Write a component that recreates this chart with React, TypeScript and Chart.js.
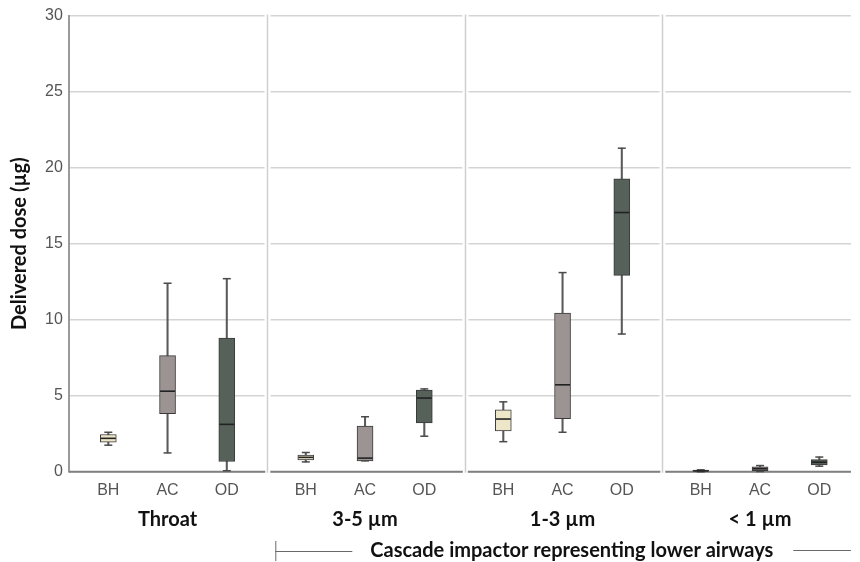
import React, { useEffect, useRef } from "react";
import { Chart, registerables } from "chart.js";
Chart.register(...registerables);

const panelLabels = ["Throat", "3-5 µm", "1-3 µm", "< 1 µm"];
const groupLabels = ["BH", "AC", "OD"];
const yTicks = [0, 5, 10, 15, 20, 25, 30];
const yTitle = "Delivered dose (µg)";
const bracketLabel = "Cascade impactor representing lower airways";

// per group: values for [Throat, 3-5, 1-3, <1]
const bhLow = [1.75, 0.65, 1.98, 0.0];
const bhQ1 = [1.95, 0.78, 2.69, 0.02];
const bhMed = [2.2, 0.95, 3.47, 0.06];
const bhQ3 = [2.45, 1.1, 4.08, 0.11];
const bhHigh = [2.6, 1.27, 4.6, 0.13];

const acLow = [1.24, 0.72, 2.6, 0.02];
const acQ1 = [3.82, 0.72, 3.49, 0.08];
const acMed = [5.3, 0.9, 5.72, 0.2];
const acQ3 = [7.64, 3.0, 10.43, 0.32];
const acHigh = [12.4, 3.62, 13.1, 0.41];

const odLow = [0.07, 2.34, 9.06, 0.37];
const odQ1 = [0.68, 3.21, 12.92, 0.46];
const odMed = [3.12, 4.85, 17.05, 0.63];
const odQ3 = [8.8, 5.38, 19.27, 0.8];
const odHigh = [12.7, 5.45, 21.28, 0.97];

const groupData = [
  { low: bhLow, q1: bhQ1, med: bhMed, q3: bhQ3, high: bhHigh, color: "#ede6c8" },
  { low: acLow, q1: acQ1, med: acMed, q3: acQ3, high: acHigh, color: "#9c9393" },
  { low: odLow, q1: odQ1, med: odMed, q3: odQ3, high: odHigh, color: "#56615a" },
];

const PANEL = 10;
const xPos = (p: number, g: number) => p * PANEL + 2 + g * 3;
const tickPositions: number[] = [];
const tickNames: Record<string, string> = {};
panelLabels.forEach((_, p) =>
  groupLabels.forEach((g, gi) => {
    const v = xPos(p, gi);
    tickPositions.push(v);
    tickNames[String(v)] = g;
  })
);

const panelPlugin = {
  id: "panels",
  beforeDatasetsDraw(chart: any) {
    const { ctx, chartArea, scales } = chart;
    const xs = scales.x;
    ctx.save();
    for (let p = 1; p < panelLabels.length; p++) {
      const px = Math.round(xs.getPixelForValue(p * PANEL)) + 1.5;
      ctx.fillStyle = "#ffffff";
      ctx.fillRect(px - 3, chartArea.top - 2, 6, chartArea.bottom - chartArea.top + 6);
      ctx.strokeStyle = "#cfcfcf";
      ctx.lineWidth = 1.5;
      ctx.beginPath();
      ctx.moveTo(px, chartArea.top - 1);
      ctx.lineTo(px, chartArea.bottom + 1);
      ctx.stroke();
    }
    ctx.strokeStyle = "#808080";
    ctx.lineWidth = 2;
    for (let p = 0; p < panelLabels.length; p++) {
      const a = p === 0 ? chartArea.left : xs.getPixelForValue(p * PANEL) + 4;
      const b = Math.min(chartArea.right, xs.getPixelForValue((p + 1) * PANEL) - 1);
      ctx.beginPath();
      ctx.moveTo(a, chartArea.bottom);
      ctx.lineTo(b, chartArea.bottom);
      ctx.stroke();
    }
    ctx.restore();
  },
  afterDraw(chart: any) {
    const { ctx, chartArea, scales } = chart;
    const xs = scales.x;
    ctx.save();
    ctx.fillStyle = "#111111";
    ctx.font = "bold 20px Lato";
    ctx.textAlign = "center";
    ctx.textBaseline = "middle";
    panelLabels.forEach((l, p) => {
      ctx.fillText(l, xs.getPixelForValue(p * PANEL + PANEL / 2), 520);
    });
    // bracket annotation
    const y = 551;
    const x0 = xs.getPixelForValue(PANEL) + 9;
    const x1 = x0 + 77;
    ctx.strokeStyle = "#6a6a6a";
    ctx.lineWidth = 1;
    ctx.beginPath();
    ctx.moveTo(x0 + 0.5, y - 10);
    ctx.lineTo(x0 + 0.5, y + 10);
    ctx.moveTo(x0, y + 0.5);
    ctx.lineTo(x1, y + 0.5);
    ctx.stroke();
    ctx.textAlign = "left";
    const tx = x1 + 18;
    ctx.fillText(bracketLabel, tx, y);
    const tw = ctx.measureText(bracketLabel).width;
    ctx.beginPath();
    ctx.moveTo(tx + tw + 20, y - 0.5);
    ctx.lineTo(chartArea.right, y - 0.5);
    ctx.stroke();
    ctx.restore();
  },
};

export default function App() {
  const ref = useRef<HTMLCanvasElement>(null);
  useEffect(() => {
    document.body.style.margin = "0";
    const datasets: any[] = [];
    groupData.forEach((g, gi) => {
      const pts = panelLabels.map((_, p) => xPos(p, gi));
      datasets.push({
        type: "bar",
        label: groupLabels[gi] + " box",
        data: pts.map((x, p) => ({ x, y: [g.q1[p], g.q3[p]] })),
        backgroundColor: g.color,
        borderColor: "#3a3a3a",
        borderWidth: 1,
        borderSkipped: false,
        barThickness: 16,
        grouped: false,
        order: 2,
      });
      datasets.push({
        type: "bar",
        label: groupLabels[gi] + " whisker",
        data: pts.map((x, p) => ({ x, y: [g.low[p], g.high[p]] })),
        backgroundColor: "#5a5a5a",
        borderWidth: 0,
        barThickness: 1.4,
        grouped: false,
        order: 3,
      });
      datasets.push({
        type: "scatter",
        label: groupLabels[gi] + " caps",
        data: pts.flatMap((x, p) => [
          { x, y: g.low[p] },
          { x, y: g.high[p] },
        ]),
        pointStyle: "line",
        pointRadius: 4,
        pointHoverRadius: 4,
        pointBorderColor: "#4a4a4a",
        pointBorderWidth: 1.5,
        clip: false,
        order: 1,
      });
      datasets.push({
        type: "scatter",
        label: groupLabels[gi] + " median",
        data: pts.map((x, p) => ({ x, y: g.med[p] })),
        pointStyle: "line",
        pointRadius: 7.5,
        pointHoverRadius: 7.5,
        pointBorderColor: "#222222",
        pointBorderWidth: 1.6,
        clip: false,
        order: 0,
      });
    });
    const chart = new Chart(ref.current as HTMLCanvasElement, {
      type: "bar",
      data: { datasets },
      options: {
        responsive: false,
        animation: false,
        devicePixelRatio: 1,
        layout: { padding: { left: 4, top: -3, right: 0, bottom: 61 } },
        plugins: { legend: { display: false }, tooltip: { enabled: false } },
        scales: {
          x: {
            type: "linear",
            min: 0,
            max: 39.6,
            offset: false,
            grid: { display: false },
            border: { display: false },
            afterBuildTicks: (scale: any) => {
              scale.ticks = tickPositions.map((v) => ({ value: v }));
            },
            ticks: {
              autoSkip: false,
              maxRotation: 0,
              padding: 1,
              color: "#555555",
              font: { family: "Liberation Sans", size: 16 },
              callback: (v: any) => tickNames[String(v)] ?? "",
            },
          },
          y: {
            min: 0,
            max: 30,
            afterBuildTicks: (scale: any) => {
              scale.ticks = yTicks.map((v) => ({ value: v }));
            },
            grid: { color: "#d4d4d4", lineWidth: 1.6, drawTicks: false },
            border: { display: true, color: "#9a9a9a", width: 2 },
            ticks: {
              padding: 6,
              color: "#555555",
              font: { family: "Liberation Sans", size: 16 },
            },
            title: {
              display: true,
              text: yTitle,
              color: "#111111",
              font: { family: "Lato", size: 20, weight: "bold" },
              padding: { top: 4, bottom: 7 },
            },
          },
        },
      },
      plugins: [panelPlugin],
    } as any);
    return () => chart.destroy();
  }, []);
  return (
    <div style={{ width: 860, height: 562 }}>
      <canvas ref={ref} width={860} height={562} style={{ display: "block" }} />
    </div>
  );
}
